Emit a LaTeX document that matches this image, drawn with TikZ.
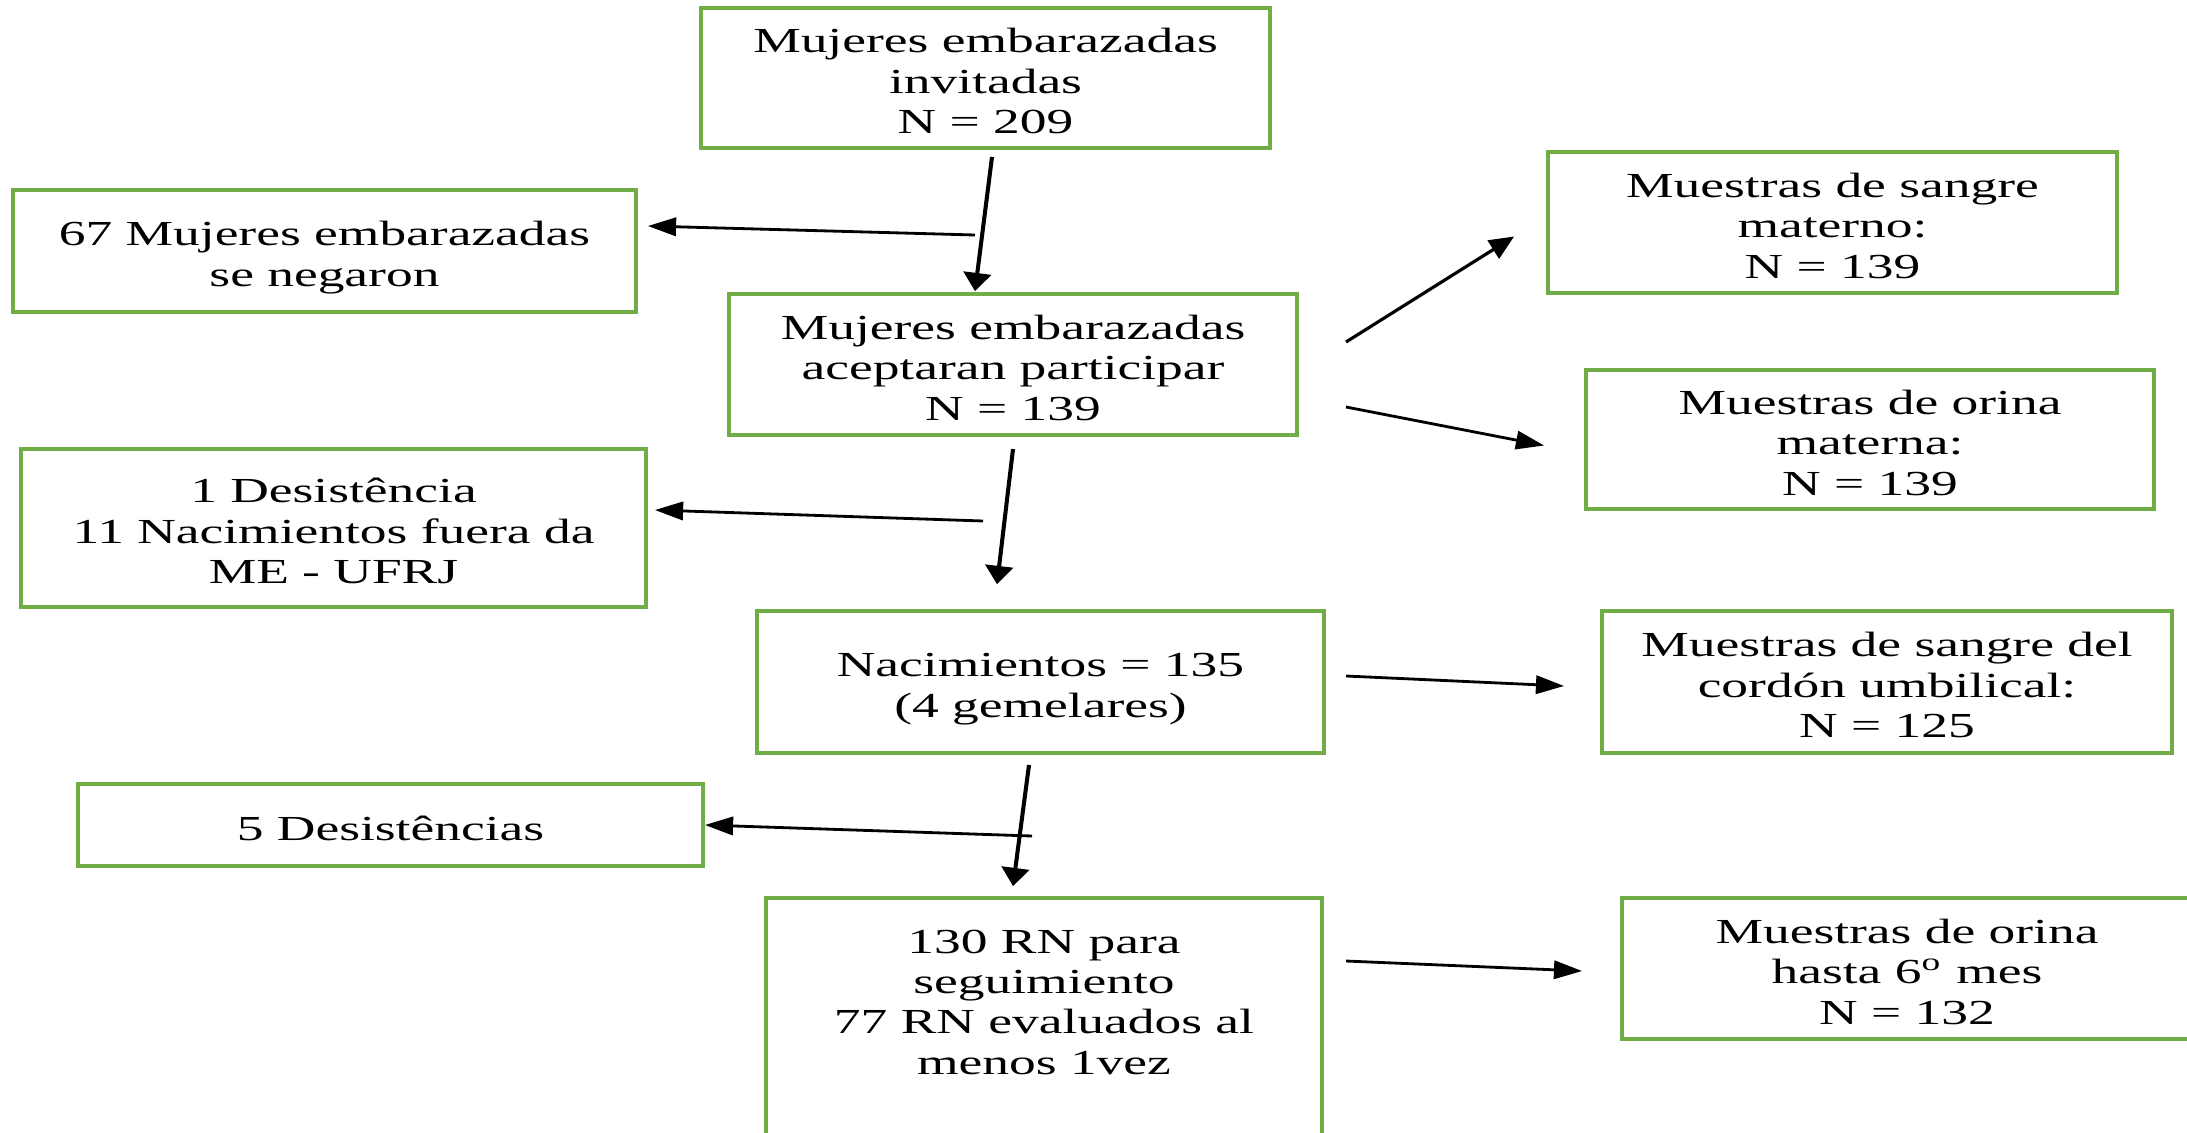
\documentclass[tikz,border=0pt]{standalone}
\usepackage{fontspec}
\setmainfont{Liberation Serif}
\usetikzlibrary{arrows.meta,calc}
\definecolor{boxgreen}{HTML}{70AD47}
\newcommand{\bx}[1]{\raisebox{-2pt}[\height][\depth]{\scalebox{1.52}[1]{\begin{tabular}{@{}c@{}}#1\end{tabular}}}}
\tikzset{
  fbox/.style={draw=boxgreen, line width=1pt, fill=white, inner sep=0pt,
    font=\fontsize{10}{11.5}\selectfont, text=black},
  harr/.style={draw=black, line width=0.8pt, -{Triangle[length=8pt,width=5.2pt]}},
  varr/.style={draw=black, line width=1.15pt, -{Triangle[length=5.2pt,width=7.8pt]}},
  darr/.style={draw=black, line width=0.9pt, -{Triangle[length=7pt,width=6pt]}}
}
\begin{document}
\begin{tikzpicture}[x=0.01cm,y=-0.01cm]
\useasboundingbox (0,0) rectangle (2187,1133);
\fill[white] (0,0) rectangle (2187,1133);
\clip (0,0) rectangle (2187,1133);

% boxes
\node[fbox, minimum width=5.69cm, minimum height=1.40cm] (inv)  at (985.5,78)   {\bx{Mujeres embarazadas\\invitadas\\N = 209}};
\node[fbox, minimum width=6.23cm, minimum height=1.22cm] (neg)  at (324.5,251)  {\bx{67 Mujeres embarazadas\\se negaron}};
\node[fbox, minimum width=5.68cm, minimum height=1.41cm] (acep) at (1013,364.5) {\bx{Mujeres embarazadas\\aceptaran participar\\N = 139}};
\node[fbox, minimum width=6.25cm, minimum height=1.58cm] (des1) at (333.5,528)  {\bx{1 Desistência\\11 Nacimientos fuera da\\ME - UFRJ}};
\node[fbox, minimum width=5.67cm, minimum height=1.42cm] (nac)  at (1040.5,682) {\bx{Nacimientos = 135\\(4 gemelares)}};
\node[fbox, minimum width=6.25cm, minimum height=0.82cm] (des5) at (390.5,825)  {\bx{5 Desistências}};
\node[fbox, minimum width=5.56cm, minimum height=2.82cm] (rn)   at (1044,1039)  {\bx{130 RN para\\seguimiento\\77 RN evaluados al\\menos 1vez\\\mbox{}\\\mbox{}}};
\node[fbox, minimum width=5.69cm, minimum height=1.41cm] (sm)   at (1832.5,222.5) {\bx{Muestras de sangre\\materno:\\N = 139}};
\node[fbox, minimum width=5.68cm, minimum height=1.39cm] (om)   at (1870,439.5) {\bx{Muestras de orina\\materna:\\N = 139}};
\node[fbox, minimum width=5.70cm, minimum height=1.42cm] (cord) at (1887,682)   {\bx{Muestras de sangre del\\cordón umbilical:\\N = 125}};
\node[fbox, minimum width=5.70cm, minimum height=1.41cm] (o6)   at (1907,968.5) {\bx{Muestras de orina\\hasta 6\textsuperscript{o} mes\\N = 132}};

% free ends of connectors
\coordinate (a0) at (992,157);
\coordinate (b0) at (975,235);
\coordinate (c0) at (1013,449);
\coordinate (d0) at (983,521);
\coordinate (e0) at (1029,765);
\coordinate (f0) at (1032,836);
\coordinate (g0) at (1346,342);
\coordinate (h0) at (1346,407);
\coordinate (i0) at (1346,676);
\coordinate (j0) at (1346,961);

% connectors
\draw[varr] (a0) -- ($(acep.north)+(-38,-1)$);
\draw[harr] (b0) -- ($(neg.east)+(10,-25)$);
\draw[varr] (c0) -- ($(nac.north)+(-43.5,-25)$);
\draw[harr] (d0) -- ($(des1.east)+(7,-18)$);
\draw[varr] (e0) -- ($(rn.north)+(-31,-10)$);
\draw[harr] (f0) -- (des5.east);
\draw[darr] (g0) -- ($(sm.west)+(-32,14)$);
\draw[harr] (h0) -- ($(om.west)+(-40,6)$);
\draw[harr] (i0) -- ($(cord.west)+(-36,4)$);
\draw[harr] (j0) -- ($(o6.west)+(-38,2.5)$);
\end{tikzpicture}
\end{document}
